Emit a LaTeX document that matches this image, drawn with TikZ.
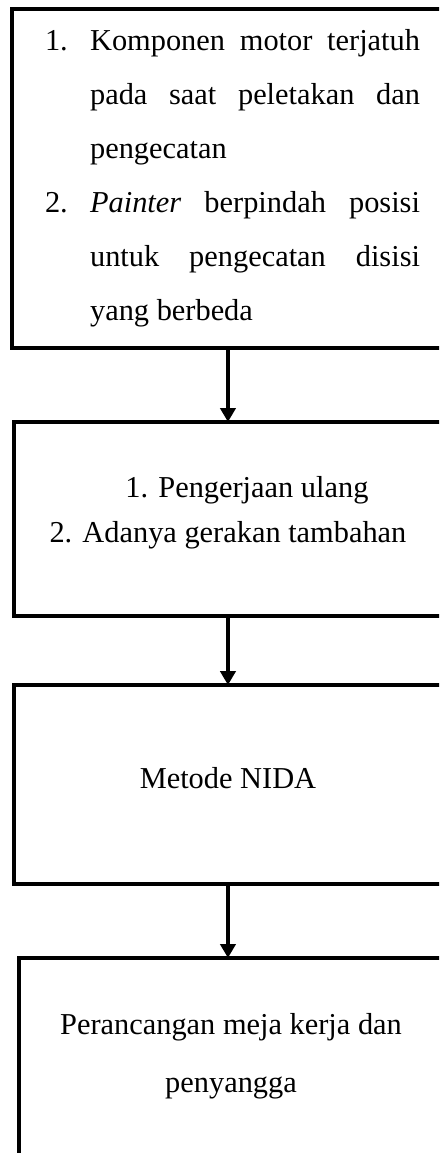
\documentclass[tikz,border=0pt]{standalone}
\usepackage{fontspec}
\setmainfont{Liberation Serif}
\usetikzlibrary{%
	arrows.meta,%
	positioning,%
}
\tikzset{
	>={Triangle[width=6pt,length=5.5pt]},%
	nodes={align=center},%
	stepbox/.style={%
			draw,%
			rectangle,%
			line width=1.6pt,%
			outer sep=0pt,%
			inner sep=0pt,%
			minimum width=169.1pt,%
			fill=white},%
	flowarrow/.style={%
			->,%
			line width=1.6pt},%
}
\hyphenpenalty=10000
\tolerance=10000

\begin{document}
\begin{tikzpicture}
	\useasboundingbox (0,0) rectangle (173.4pt,-455.4pt);
	\clip (0,0) rectangle (173.4pt,-455.4pt);

	\node[stepbox, anchor=north west, minimum width=170.6pt, minimum height=133.9pt,
		font={\fontsize{12pt}{21.4pt}\selectfont}]
	(problems) at (4.74pt,-3.56pt) {\begin{tabular}{@{\hspace{3.6pt}}p{17.8pt}@{}p{130.3pt}@{}}
			1. & Komponen motor terjatuh pada saat peletakan dan pengecatan \\
			2. & \textit{Painter} berpindah posisi untuk pengecatan disisi yang berbeda\rule[-9.5pt]{0pt}{9.5pt}
		\end{tabular}};

	\node[stepbox, minimum height=76.6pt, font={\fontsize{12pt}{17.4pt}\selectfont}]
	(effects) [below=29.2pt of problems] {\hspace*{15pt}1. Pengerjaan ulang\\
		2. Adanya gerakan tambahan\rule[-7.5pt]{0pt}{7.5pt}};

	\node[stepbox, minimum height=78.6pt, font={\fontsize{12pt}{17.4pt}\selectfont}]
	(method) [below=27.3pt of effects] {Metode NIDA\rule[-5.5pt]{0pt}{5.5pt}};

	\node[stepbox, minimum width=167.5pt, minimum height=83.7pt, font={\fontsize{12pt}{22.9pt}\selectfont}]
	(design) [below=29.2pt of method.south west, anchor=north west, xshift=2pt] {Perancangan meja kerja dan\\
		penyangga\rule[-8.7pt]{0pt}{8.7pt}};

	\draw[flowarrow] (problems) -- (effects);
	\draw[flowarrow] (effects) -- (method);
	\draw[flowarrow] (method.south) -- (method.south |- design.north);
\end{tikzpicture}
\end{document}
